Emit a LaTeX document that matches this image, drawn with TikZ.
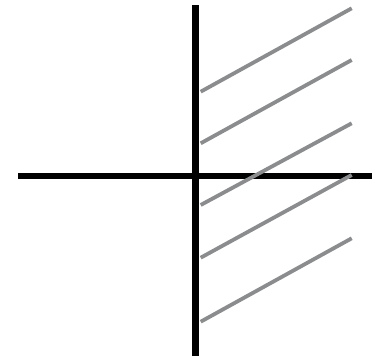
\documentclass[tikz,border=0pt]{standalone}
\usepackage{xcolor}
\usepackage{tikz}

\definecolor{hatchgray}{RGB}{138,140,142}

\begin{document}
\begin{tikzpicture}[
  x=1pt, y=-1pt,
  axis/.style={draw=black, line width=6.5pt},
  hatch/.style={draw=hatchgray, line width=3.8pt}
]
\useasboundingbox (0,0) rectangle (388,359);

% axes
\coordinate (vtop) at (195.5,5);
\coordinate (vbot) at (195.5,356);
\coordinate (hleft) at (18,176);
\coordinate (hright) at (372,176);
\draw[axis] (vtop) -- (vbot);
\draw[axis] (hleft) -- (hright);

% hatching
\foreach \ys/\ye [count=\i] in {91.7/8.3, 143.3/60, 205/123.3, 257.7/175, 321.7/238.3}{
  \coordinate (h\i a) at (200.7,\ys);
  \coordinate (h\i b) at (351.7,\ye);
  \draw[hatch] (h\i a) -- (h\i b);
}
\end{tikzpicture}
\end{document}
